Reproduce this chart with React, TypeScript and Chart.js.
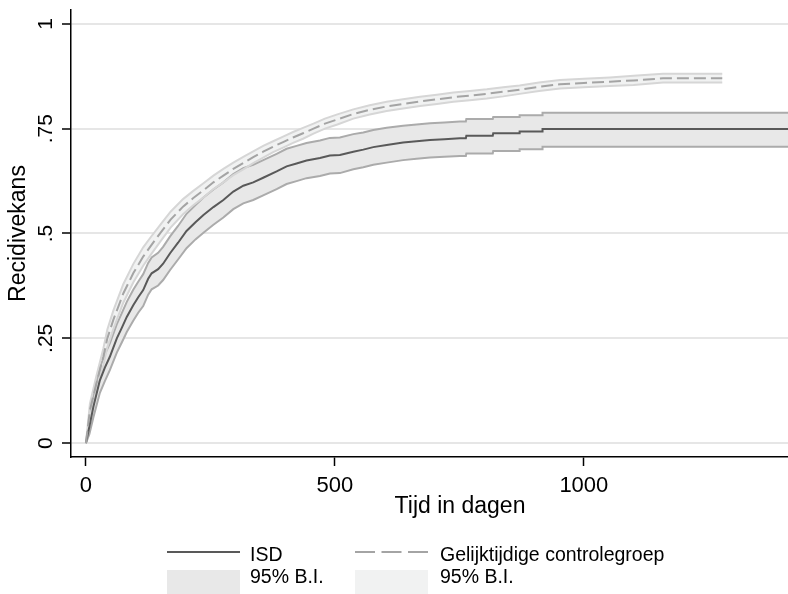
import React, { useEffect, useRef } from "react";
import { Chart, registerables } from "chart.js";

Chart.register(...registerables);

// ISD group: time (days), failure estimate and 95% CI
const isdT = [0, 7, 15, 28, 38, 48, 62, 72, 82, 95, 105, 115, 125, 132, 145, 155, 169, 185, 202, 220, 236, 256, 276, 296, 316, 336, 356, 383, 403, 423, 443, 470, 490, 510, 537, 557, 577, 604, 637, 664, 691, 720, 751, 763, 764, 817, 818, 870, 871, 916, 917, 1410];
const isdV = [0, 0.040, 0.087, 0.150, 0.180, 0.206, 0.250, 0.275, 0.301, 0.329, 0.348, 0.365, 0.392, 0.405, 0.415, 0.428, 0.453, 0.478, 0.506, 0.527, 0.544, 0.563, 0.580, 0.600, 0.614, 0.622, 0.633, 0.648, 0.660, 0.667, 0.674, 0.680, 0.686, 0.687, 0.695, 0.700, 0.706, 0.711, 0.717, 0.720, 0.723, 0.725, 0.727, 0.727, 0.733, 0.733, 0.739, 0.739, 0.743, 0.743, 0.749, 0.749];
const isdHi = [0, 0.058, 0.112, 0.180, 0.212, 0.238, 0.284, 0.310, 0.337, 0.366, 0.385, 0.403, 0.430, 0.443, 0.454, 0.468, 0.493, 0.518, 0.547, 0.568, 0.586, 0.605, 0.622, 0.642, 0.656, 0.664, 0.675, 0.690, 0.702, 0.709, 0.716, 0.722, 0.728, 0.729, 0.737, 0.741, 0.747, 0.752, 0.757, 0.760, 0.763, 0.765, 0.767, 0.767, 0.773, 0.773, 0.778, 0.778, 0.782, 0.782, 0.788, 0.788];
const isdLo = [0, 0.022, 0.062, 0.120, 0.148, 0.174, 0.216, 0.240, 0.265, 0.292, 0.311, 0.327, 0.354, 0.367, 0.376, 0.389, 0.413, 0.438, 0.465, 0.486, 0.502, 0.521, 0.538, 0.558, 0.572, 0.580, 0.591, 0.606, 0.618, 0.625, 0.632, 0.637, 0.643, 0.644, 0.653, 0.658, 0.664, 0.669, 0.675, 0.678, 0.681, 0.683, 0.685, 0.685, 0.691, 0.691, 0.697, 0.697, 0.701, 0.701, 0.707, 0.707];

// Control group
const ctrlT = [0, 8, 21, 35, 43, 55, 75, 95, 115, 130, 150, 170, 195, 215, 236, 256, 276, 296, 316, 336, 356, 376, 396, 416, 436, 457, 480, 505, 537, 570, 604, 637, 671, 705, 738, 771, 805, 838, 871, 910, 952, 1000, 1052, 1100, 1159, 1278];
const ctrlV = [0, 0.079, 0.142, 0.206, 0.250, 0.294, 0.357, 0.405, 0.445, 0.470, 0.502, 0.533, 0.564, 0.584, 0.603, 0.622, 0.638, 0.654, 0.668, 0.682, 0.695, 0.707, 0.718, 0.729, 0.739, 0.750, 0.762, 0.772, 0.785, 0.795, 0.803, 0.809, 0.815, 0.820, 0.825, 0.829, 0.833, 0.838, 0.843, 0.850, 0.856, 0.859, 0.862, 0.865, 0.870, 0.870];
const ctrlHi = [0, 0.094, 0.160, 0.226, 0.271, 0.316, 0.379, 0.427, 0.467, 0.491, 0.522, 0.552, 0.582, 0.601, 0.620, 0.638, 0.654, 0.669, 0.683, 0.696, 0.709, 0.720, 0.731, 0.742, 0.752, 0.762, 0.774, 0.784, 0.796, 0.806, 0.814, 0.820, 0.826, 0.831, 0.836, 0.840, 0.844, 0.849, 0.853, 0.860, 0.866, 0.869, 0.872, 0.876, 0.881, 0.881];
const ctrlLo = [0, 0.064, 0.124, 0.186, 0.229, 0.272, 0.335, 0.383, 0.423, 0.449, 0.482, 0.514, 0.546, 0.567, 0.586, 0.606, 0.622, 0.639, 0.653, 0.668, 0.681, 0.694, 0.705, 0.716, 0.726, 0.738, 0.750, 0.760, 0.774, 0.784, 0.792, 0.798, 0.804, 0.809, 0.814, 0.818, 0.822, 0.827, 0.833, 0.840, 0.846, 0.849, 0.852, 0.854, 0.860, 0.860];

const xTicks = [0, 500, 1000];
const xTickLabels = ["0", "500", "1000"];
const yTicks = [0, 0.25, 0.5, 0.75, 1];
const yTickLabels = ["0", ".25", ".5", ".75", "1"];
const xTitle = "Tijd in dagen";
const yTitle = "Recidivekans";
const legendLabels = ["ISD", "Gelijktijdige controlegroep", "95% B.I.", "95% B.I."];

const FONT = '"Liberation Sans", Arial, Helvetica, sans-serif';
const C_ISD = "#595959";
const C_CTRL = "#a4a4a4";
const C_ISD_CI = "#ababab";
const C_CTRL_CI = "#d6d6d6";
const F_ISD = "#e8e8e8";
const F_CTRL = "#f1f2f2";

function pts(t: number[], v: number[]) {
  return t.map((x, i) => ({ x, y: v[i] }));
}

const textPlugin = {
  id: "stataText",
  afterDraw(chart: any) {
    const ctx = chart.ctx as CanvasRenderingContext2D;
    const xs = chart.scales.x;
    const ys = chart.scales.y;
    ctx.save();
    ctx.fillStyle = "#000";
    // y tick labels (rotated)
    ctx.font = `21px ${FONT}`;
    ctx.textAlign = "center";
    ctx.textBaseline = "alphabetic";
    yTicks.forEach((v, i) => {
      const y = ys.getPixelForValue(v);
      ctx.save();
      ctx.translate(52, y);
      ctx.rotate(-Math.PI / 2);
      ctx.fillText(yTickLabels[i], 0, 0);
      ctx.restore();
    });
    // y title
    ctx.font = `23px ${FONT}`;
    ctx.save();
    ctx.translate(25, (chart.chartArea.top + chart.chartArea.bottom) / 2);
    ctx.rotate(-Math.PI / 2);
    ctx.fillText(yTitle, 0, 0);
    ctx.restore();
    // x tick labels
    ctx.font = `22px ${FONT}`;
    xTicks.forEach((v, i) => {
      ctx.fillText(xTickLabels[i], xs.getPixelForValue(v), 492);
    });
    // x title
    ctx.font = `23px ${FONT}`;
    ctx.fillText(xTitle, 460, 513);

    // legend
    ctx.lineWidth = 2;
    ctx.strokeStyle = C_ISD;
    ctx.beginPath();
    ctx.moveTo(167, 552);
    ctx.lineTo(240, 552);
    ctx.stroke();
    ctx.strokeStyle = C_CTRL;
    ctx.setLineDash([20, 6.5]);
    ctx.beginPath();
    ctx.moveTo(355, 552);
    ctx.lineTo(428, 552);
    ctx.stroke();
    ctx.setLineDash([]);
    ctx.fillStyle = F_ISD;
    ctx.fillRect(167, 570, 73, 24);
    ctx.fillStyle = F_CTRL;
    ctx.fillRect(355, 570, 73, 24);
    ctx.fillStyle = "#000";
    ctx.font = `19.5px ${FONT}`;
    ctx.textAlign = "left";
    ctx.fillText(legendLabels[0], 250, 561);
    ctx.fillText(legendLabels[1], 440, 561);
    ctx.fillText(legendLabels[2], 250, 583);
    ctx.fillText(legendLabels[3], 440, 583);
    ctx.restore();
  },
};

export default function App() {
  const ref = useRef<HTMLCanvasElement | null>(null);
  useEffect(() => {
    document.body.style.margin = "0";
    const canvas = ref.current;
    if (!canvas) return;
    const base = { pointRadius: 0, pointHoverRadius: 0, stepped: false, tension: 0 };
    const chart = new Chart(canvas, {
      type: "line",
      data: {
        datasets: [
          { ...base, label: "ctrl", data: pts(ctrlT, ctrlV), borderColor: C_CTRL, borderWidth: 2, borderDash: [12, 5], fill: false },
          { ...base, label: "isd", data: pts(isdT, isdV), borderColor: C_ISD, borderWidth: 2, fill: false },
          { ...base, label: "ctrlHi", data: pts(ctrlT, ctrlHi), borderColor: C_CTRL_CI, borderWidth: 2, fill: 3, backgroundColor: F_CTRL },
          { ...base, label: "ctrlLo", data: pts(ctrlT, ctrlLo), borderColor: C_CTRL_CI, borderWidth: 2, fill: false },
          { ...base, label: "isdHi", data: pts(isdT, isdHi), borderColor: C_ISD_CI, borderWidth: 2, fill: 5, backgroundColor: F_ISD },
          { ...base, label: "isdLo", data: pts(isdT, isdLo), borderColor: C_ISD_CI, borderWidth: 2, fill: false },
        ],
      },
      options: {
        animation: false,
        responsive: false,
        maintainAspectRatio: false,
        devicePixelRatio: 1,
        parsing: false as any,
        normalized: true,
        layout: { padding: { top: 10, right: 0, bottom: 67, left: 0 } },
        plugins: {
          legend: { display: false },
          tooltip: { enabled: false },
          filler: { drawTime: "beforeDatasetsDraw", propagate: false },
        },
        events: [],
        scales: {
          x: {
            type: "linear",
            min: -30,
            max: 1410,
            afterBuildTicks: (s: any) => {
              s.ticks = xTicks.map((v) => ({ value: v }));
            },
            afterFit: (s: any) => {
              s.height = 70;
            },
            ticks: { display: false },
            grid: { drawOnChartArea: false, drawTicks: true, tickLength: 9, tickColor: "#000", tickWidth: 1.5 },
            border: { display: true, color: "#000", width: 1.5 },
          },
          y: {
            type: "linear",
            min: -0.033,
            max: 1.033,
            afterBuildTicks: (s: any) => {
              s.ticks = yTicks.map((v) => ({ value: v }));
            },
            afterFit: (s: any) => {
              s.width = 71;
            },
            ticks: { display: false },
            grid: { color: "#e6e6e6", lineWidth: 2, drawTicks: true, tickLength: 9, tickColor: "#000", tickWidth: 1.5 },
            border: { display: true, color: "#000", width: 1.5 },
          },
        },
      } as any,
      plugins: [textPlugin],
    });
    return () => chart.destroy();
  }, []);
  return (
    <div style={{ width: 788, height: 594, position: "relative", background: "#fff" }}>
      <canvas ref={ref} width={788} height={594} style={{ display: "block" }} />
    </div>
  );
}
